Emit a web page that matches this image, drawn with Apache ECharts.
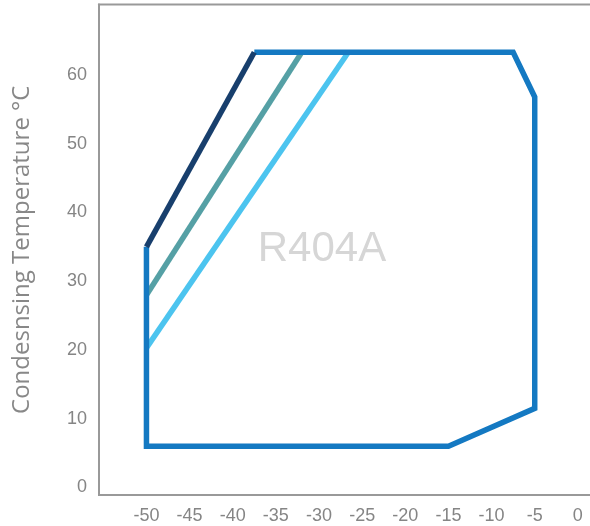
<!DOCTYPE html>
<html>
<head>
<meta charset="utf-8">
<script src="https://cdn.jsdelivr.net/npm/echarts@6/dist/echarts.min.js"></script>
<style>
html,body{margin:0;padding:0;background:#fff;}
#chart{width:590px;height:526px;}
</style>
</head>
<body>
<div id="chart"></div>
<script>
// Data
const xTickLabels = [-50, -45, -40, -35, -30, -25, -20, -15, -10, -5, 0];
const yTickLabels = [0, 10, 20, 30, 40, 50, 60];
const envelopeX = [-37.5, -7.5, -5, -5, -15, -50, -50];
const envelopeY = [63.3, 63.3, 56.8, 11.5, 6, 6, 35];
const darkLineX = [-50, -37.5];
const darkLineY = [35, 63.3];
const tealLineX = [-50, -32];
const tealLineY = [28, 63.3];
const lightLineX = [-50, -26.6];
const lightLineY = [20.3, 63.3];
const refrigerant = 'R404A';
const yTitle = 'Condesnsing Temperature °C';

function pairs(xs, ys) { return xs.map((x, i) => [x, ys[i]]); }

const chart = echarts.init(document.getElementById('chart'), null, {renderer: 'canvas'});
const lineBase = (data, color, z) => ({
  type: 'line', data: data, showSymbol: false, symbol: 'none', z: z,
  lineStyle: {color: color, width: 5.5, cap: 'butt', join: 'miter'},
  animation: false, silent: true
});
chart.setOption({
  animation: false,
  backgroundColor: '#fff',
  grid: {
    left: 99, top: 4.5, width: 522, height: 490.5,
    outerBoundsMode: 'none', containLabel: false,
    show: true, borderColor: '#999', borderWidth: 2, backgroundColor: 'transparent'
  },
  xAxis: {
    type: 'value', min: -55.5, max: 5,
    axisLine: {show: true, onZero: false, lineStyle: {color: '#999', width: 2}},
    axisTick: {show: false},
    splitLine: {show: false},
    axisLabel: {
      customValues: xTickLabels, color: '#858585', fontSize: 18,
      fontFamily: 'Liberation Sans, Arial, sans-serif', margin: 12
    }
  },
  yAxis: {
    type: 'value', min: -1.1, max: 70.25,
    name: yTitle, nameLocation: 'middle', nameRotate: 90, nameGap: 65,
    nameTextStyle: {color: '#888', fontSize: 24, fontFamily: 'Open Sans, sans-serif'},
    axisLine: {show: true, onZero: false, lineStyle: {color: '#999', width: 2}},
    axisTick: {show: false},
    splitLine: {show: false},
    axisLabel: {
      customValues: yTickLabels, color: '#858585', fontSize: 18,
      fontFamily: 'Liberation Sans, Arial, sans-serif', margin: 12
    }
  },
  graphic: [{
    type: 'text',
    style: {
      text: refrigerant, x: 322, y: 249, align: 'center', verticalAlign: 'middle',
      fill: '#d6d6d6', fontSize: 42, fontFamily: 'Liberation Sans, Arial, sans-serif'
    },
    z: 1
  }],
  series: [
    lineBase(pairs(lightLineX, lightLineY), '#4cc4ef', 2),
    lineBase(pairs(tealLineX, tealLineY), '#55a0a5', 3),
    lineBase(pairs(envelopeX, envelopeY), '#1479c2', 4),
    lineBase(pairs(darkLineX, darkLineY), '#183f6d', 5)
  ]
});
</script>
</body>
</html>
